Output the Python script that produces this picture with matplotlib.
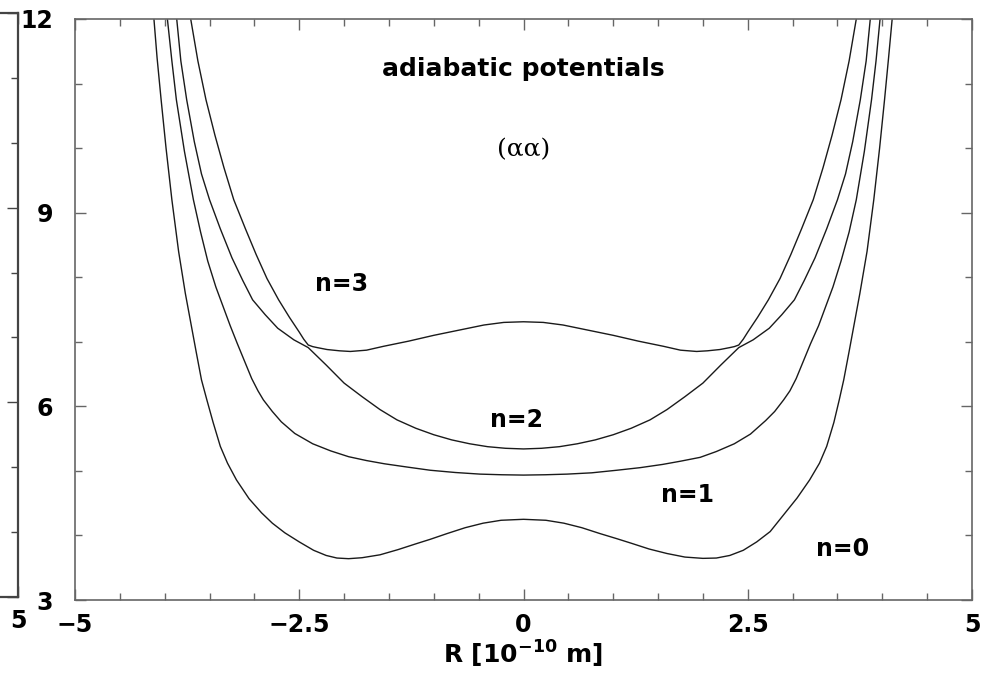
import matplotlib
matplotlib.use("Agg")
import matplotlib.pyplot as plt
from matplotlib.ticker import MultipleLocator

plt.rcParams['font.family'] = ['DejaVu Sans']
plt.rcParams['font.weight'] = 'bold'
plt.rcParams['mathtext.default'] = 'bf'

# adiabatic potential curves, R in 1e-10 m
x_n0 = [-4.12, -4.085, -4.04, -3.985, -3.92, -3.845, -3.77, -3.71, -3.65, -3.59, -3.53, -3.46, -3.38,
        -3.30, -3.20, -3.06, -2.92, -2.80, -2.66, -2.50, -2.34, -2.20, -2.08, -1.95, -1.80, -1.60,
        -1.40, -1.20, -1.04, -0.85, -0.65, -0.45, -0.25, 0.0, 0.25, 0.45, 0.65, 0.85, 1.04, 1.20,
        1.40, 1.60, 1.80, 2.00, 2.15, 2.30, 2.45, 2.60, 2.75, 2.90, 3.05, 3.19, 3.30, 3.38, 3.46,
        3.52, 3.57, 3.63, 3.69, 3.75, 3.83, 3.905, 3.97, 4.025, 4.07, 4.11]
y_n0 = [12.0, 11.4, 10.75, 10.0, 9.2, 8.4, 7.75, 7.3, 6.85, 6.41, 6.10, 5.75, 5.38,
        5.12, 4.86, 4.57, 4.35, 4.19, 4.04, 3.90, 3.77, 3.69, 3.65, 3.64, 3.655, 3.70,
        3.78, 3.87, 3.94, 4.03, 4.12, 4.19, 4.235, 4.25, 4.235, 4.19, 4.12, 4.03, 3.95, 3.88,
        3.79, 3.72, 3.665, 3.645, 3.65, 3.69, 3.77, 3.90, 4.06, 4.32, 4.58, 4.86, 5.12, 5.38, 5.75,
        6.10, 6.41, 6.85, 7.3, 7.75, 8.4, 9.2, 10.0, 10.75, 11.4, 12.0]

x_n1 = [-3.97, -3.92, -3.87, -3.78, -3.68, -3.60, -3.52, -3.43, -3.35, -3.27, -3.19, -3.11, -3.03,
        -2.96, -2.90, -2.80, -2.70, -2.55, -2.35, -2.15, -1.95, -1.75, -1.55, -1.30, -1.04, -0.76,
        -0.485, -0.24, 0.0, 0.24, 0.485, 0.76, 1.04, 1.30, 1.55, 1.75, 1.97, 2.15, 2.35, 2.53, 2.70,
        2.80, 2.90, 2.97, 3.04, 3.12, 3.20, 3.29, 3.37, 3.45, 3.54, 3.63, 3.71, 3.80, 3.88, 3.93,
        3.975]
y_n1 = [12.0, 11.35, 10.75, 9.95, 9.2, 8.7, 8.25, 7.85, 7.55, 7.25, 6.97, 6.70, 6.43,
        6.24, 6.10, 5.92, 5.76, 5.58, 5.42, 5.31, 5.22, 5.16, 5.11, 5.06, 5.01, 4.975,
        4.95, 4.94, 4.935, 4.94, 4.95, 4.97, 5.01, 5.05, 5.10, 5.15, 5.21, 5.30, 5.42, 5.57, 5.78,
        5.92, 6.10, 6.24, 6.43, 6.70, 6.97, 7.25, 7.55, 7.85, 8.25, 8.7, 9.2, 9.95, 10.75, 11.35,
        12.0]

x_n2 = [-3.866, -3.82, -3.755, -3.67, -3.59, -3.50, -3.38, -3.25, -3.13, -3.02, -2.88, -2.74, -2.56,
        -2.40, -2.20, -2.00, -1.80, -1.60, -1.41, -1.20, -1.00, -0.80, -0.60, -0.40, -0.20, 0.0,
        0.20, 0.40, 0.60, 0.80, 1.00, 1.20, 1.41, 1.60, 1.80, 2.00, 2.20, 2.40, 2.56, 2.74, 2.88,
        3.02, 3.13, 3.25, 3.38, 3.50, 3.59, 3.67, 3.755, 3.82, 3.866]
y_n2 = [12.0, 11.35, 10.75, 10.1, 9.6, 9.2, 8.75, 8.3, 7.95, 7.65, 7.42, 7.21, 7.03,
        6.91, 6.64, 6.36, 6.15, 5.95, 5.79, 5.66, 5.56, 5.48, 5.42, 5.375, 5.35, 5.34,
        5.35, 5.375, 5.42, 5.48, 5.56, 5.66, 5.79, 5.95, 6.15, 6.36, 6.64, 6.91, 7.03, 7.21, 7.42,
        7.65, 7.95, 8.3, 8.75, 9.2, 9.6, 10.1, 10.75, 11.35, 12.0]

x_n3 = [-3.71, -3.63, -3.54, -3.44, -3.34, -3.23, -3.10, -2.98, -2.86, -2.73, -2.61, -2.50, -2.45,
        -2.40, -2.35, -2.30, -2.19, -2.05, -1.93, -1.75, -1.56, -1.28, -1.00, -0.72, -0.44, -0.22,
        0.0, 0.22, 0.44, 0.72, 1.00, 1.28, 1.56, 1.75, 1.93, 2.05, 2.19, 2.30, 2.35, 2.40, 2.45,
        2.50, 2.61, 2.73, 2.86, 2.98, 3.10, 3.23, 3.34, 3.44, 3.54, 3.63, 3.71]
y_n3 = [12.0, 11.35, 10.75, 10.2, 9.7, 9.2, 8.75, 8.35, 7.98, 7.65, 7.38, 7.15, 7.04,
        6.95, 6.925, 6.91, 6.88, 6.86, 6.85, 6.87, 6.93, 7.01, 7.10, 7.18, 7.26, 7.30,
        7.31, 7.30, 7.26, 7.18, 7.10, 7.01, 6.93, 6.87, 6.85, 6.86, 6.88, 6.91, 6.925, 6.95, 7.04,
        7.15, 7.38, 7.65, 7.98, 8.35, 8.75, 9.2, 9.7, 10.2, 10.75, 11.35, 12.0]

curves = [(x_n0, y_n0), (x_n1, y_n1), (x_n2, y_n2), (x_n3, y_n3)]

level_labels = ['n=0', 'n=1', 'n=2', 'n=3']
label_pos = [(3.56, 3.79), (1.83, 4.63), (-0.08, 5.79), (-2.03, 7.89)]

xticks = [-5, -2.5, 0, 2.5, 5]
xtick_labels = ['\u22125', '\u22122.5', '0', '2.5', '5']
yticks = [3, 6, 9, 12]
ytick_labels = ['3', '6', '9', '12']

fig = plt.figure(figsize=(9.96, 6.74), dpi=100)


def style_axes(a, spine_color, spine_lw):
    a.set_xlim(-5, 5)
    a.set_ylim(3, 12)
    a.set_yticks(yticks)
    a.yaxis.set_minor_locator(MultipleLocator(1))
    a.tick_params(which='both', direction='in', top=True, right=True,
                  color=spine_color, labelsize=17)
    a.tick_params(which='major', length=8, width=1.0)
    a.tick_params(which='minor', length=5, width=1.0)
    a.tick_params(axis='x', pad=9)
    a.tick_params(axis='y', pad=16)
    for s in a.spines.values():
        s.set_color(spine_color)
        s.set_linewidth(spine_lw)


# neighbouring panel, only its right edge is in view
ax0 = fig.add_axes([(18 - 897) / 996, 1 - 597 / 674, 897 / 996, 584 / 674])
style_axes(ax0, '#444444', 1.6)
ax0.set_xticks([5])
ax0.set_xticklabels(['5'])
ax0.tick_params(axis='y', labelleft=False)

ax = fig.add_axes([75 / 996, 1 - 600 / 674, 897 / 996, 581 / 674])
style_axes(ax, '#666666', 1.2)
ax.set_xticks(xticks)
ax.set_xticklabels(xtick_labels)
ax.set_yticklabels(ytick_labels)
ax.xaxis.set_minor_locator(MultipleLocator(0.5))

for x, y in curves:
    ax.plot(x, y, color='#1a1a1a', lw=1.0)

for txt, (lx, ly) in zip(level_labels, label_pos):
    ax.text(lx, ly, txt, fontsize=17, ha='center', va='center')

ax.text(0.0, 11.23, 'adiabatic potentials', fontsize=18, ha='center', va='center')
ax.text(0.0, 9.97, '(\u03b1\u03b1)', fontsize=18, ha='center', va='center',
        family=['DejaVu Serif'], weight='normal')

ax.set_xlabel(r'R [10$^{-10}$ m]', fontsize=18, fontweight='bold', labelpad=2)

fig.savefig('out.png', dpi=100)
